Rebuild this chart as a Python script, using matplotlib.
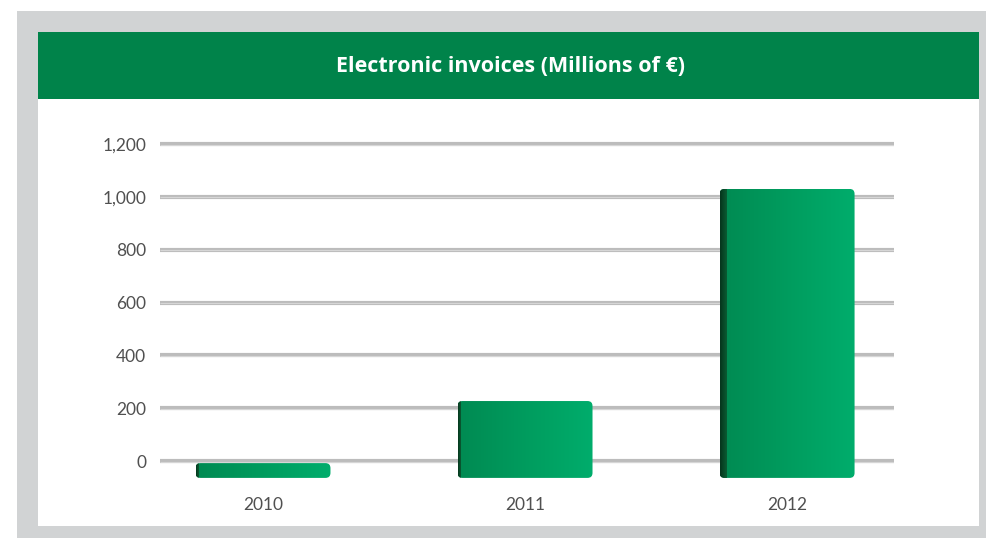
import matplotlib
matplotlib.use('Agg')
import matplotlib.pyplot as plt
import numpy as np
from matplotlib.patches import Rectangle, FancyBboxPatch
from matplotlib.colors import LinearSegmentedColormap

# ---- data ----
years = ['2010', '2011', '2012']
values = [56, 291, 1094]          # bar heights measured from the 3D floor
floor = -64                       # 3D floor (front face bottom) in value units
yticks = [0, 200, 400, 600, 800, 1000, 1200]
title = 'Electronic invoices (Millions of €)'

W, H = 986, 538
fig = plt.figure(figsize=(W / 100, H / 100), dpi=100)
fig.patch.set_facecolor('white')


def fx(px):
    return px / W


def fy(py):
    return 1 - py / H


def frect(x0, y0, x1, y1, color, z):
    fig.patches.append(Rectangle((fx(x0), fy(y1)), fx(x1) - fx(x0), fy(y0) - fy(y1),
                                 transform=fig.transFigure, facecolor=color,
                                 edgecolor='none', zorder=z))


frect(17, 11, 986, 538, '#d1d3d4', 0)
frect(38, 32, 979, 526, '#ffffff', 1)
frect(38, 32, 979, 99, '#00834a', 2)

fig.text(fx(510), fy(66), title, ha='center', va='center', color='white',
         fontsize=15.5, fontweight='bold', family=['Open Sans', 'DejaVu Sans'], zorder=5)

# axes placement (pixels)
ax_l, ax_r, ax_t, ax_b = 160, 894, 130, 485
zero_px, top_px = 461, 144
ppu = (zero_px - top_px) / 1200.0
xlim = (-0.393, 2.408)
pxu = (ax_r - ax_l) / (xlim[1] - xlim[0])
ax = fig.add_axes([fx(ax_l), fy(ax_b), fx(ax_r) - fx(ax_l), fy(ax_t) - fy(ax_b)])
ax.set_facecolor('none')
ax.set_zorder(3)
ylim = ((zero_px - ax_b) / ppu, (zero_px - ax_t) / ppu)

for s in ax.spines.values():
    s.set_visible(False)

# gridlines with a slight 3D look
for t in yticks:
    ax.axhline(t, color='#bcbcbc', lw=3.0, zorder=1, solid_capstyle='butt')
    ax.axhline(t - 0.6 / ppu, color='#d6d6d6', lw=0.8, zorder=1.1, solid_capstyle='butt')

x = np.arange(len(years))
width = 0.515
bars = ax.bar(x, values, bottom=floor, width=width, color='#009a5c', alpha=0, zorder=2)

front = LinearSegmentedColormap.from_list('front', ['#008a52', '#009c5e', '#00ad6c'])
side = LinearSegmentedColormap.from_list('side', ['#06341c', '#0a5c33'])
grad = np.linspace(0, 1, 256).reshape(1, -1)
r_px = 5.0
for b in bars:
    x0, y0 = b.get_x(), b.get_y()
    w, h = b.get_width(), b.get_height()
    shape = FancyBboxPatch((x0, y0), w, h,
                           boxstyle=f'round,pad=0,rounding_size={r_px / pxu}',
                           mutation_aspect=pxu / ppu, facecolor='none',
                           edgecolor='none', zorder=2)
    ax.add_patch(shape)
    im = ax.imshow(grad, cmap=front, extent=[x0, x0 + w, y0, y0 + h],
                   aspect='auto', zorder=2.1, interpolation='bicubic')
    im.set_clip_path(shape)
    sw = 7 / pxu if h * ppu > 100 else 3 / pxu
    im2 = ax.imshow(grad, cmap=side, extent=[x0, x0 + sw, y0, y0 + h],
                    aspect='auto', zorder=2.2, interpolation='bicubic')
    im2.set_clip_path(shape)

ax.set_xlim(*xlim)
ax.set_ylim(*ylim)

ax.set_yticks(yticks)
ax.set_yticklabels([f'{t:,}' for t in yticks])
ax.set_xticks(x)
ax.set_xticklabels(years)
ax.tick_params(axis='y', length=0, pad=10, labelsize=12.5, labelcolor='#505050')
ax.tick_params(axis='x', length=0, pad=9, labelsize=12.5, labelcolor='#505050')
for lab in ax.get_xticklabels() + ax.get_yticklabels():
    lab.set_family(['Lato', 'DejaVu Sans'])
    lab.set_fontweight('normal')

fig.savefig('out.png', dpi=100, facecolor='white')
